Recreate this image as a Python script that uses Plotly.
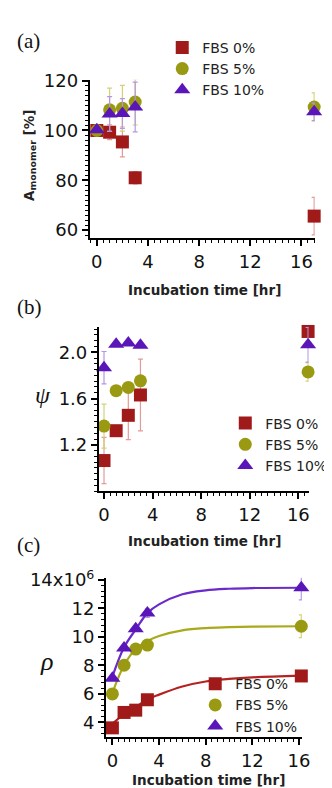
import plotly.graph_objects as go

W, H = 332, 788

# ---------------- data ----------------
series_names = ["FBS 0%", "FBS 5%", "FBS 10%"]

# (a) monomer area [%]
t_a = [0, 1, 2, 3, 17]
a_0 = [100, 99.3, 95.4, 81.0, 65.6]
a_0_err = [0, 3, 6, 2.5, 7.5]
a_5 = [100, 108.3, 108.9, 111.4, 109.4]
a_5_err = [0, 8.7, 9.2, 9.2, 5.7]
a_10 = [100.3, 106.6, 106.8, 109.4, 107.5]
a_10_err = [0, 7, 6, 10, 3.5]

# (b) psi
t_b = [0, 1, 2, 3, 16.8]
b_0 = [1.064, 1.322, 1.455, 1.631, 2.18]
b_0_err = [0.2, 0.03, 0.21, 0.31, 0]
b_5 = [1.362, 1.668, 1.696, 1.753, 1.83]
b_5_err = [0.19, 0, 0, 0, 0.08]
b_10 = [1.867, 2.07, 2.08, 2.06, 2.065]
b_10_err = [0.14, 0, 0, 0, 0.15]

# (c) rho (x10^6)
t_c = [0, 1, 2, 3, 16.2]
c_0 = [3.61, 4.69, 4.85, 5.58, 7.25]
c_0_err = [0, 0, 0, 0, 0.25]
c_5 = [5.99, 8.0, 9.14, 9.42, 10.74]
c_5_err = [0, 0, 0, 0, 0.8]
c_10 = [7.09, 9.21, 10.56, 11.66, 13.44]
c_10_err = [0, 0, 0, 0.3, 0.85]

# fitted curves in (c)
fit_t = [0, 1, 2, 3, 4, 6, 8, 10, 12, 16.2]
fit_0 = [3.89, 4.57, 5.07, 5.6, 5.94, 6.51, 6.86, 7.04, 7.15, 7.27]
fit_5 = [6.06, 8.0, 9.14, 9.71, 10.06, 10.45, 10.61, 10.67, 10.71, 10.74]
fit_10 = [7.2, 9.26, 10.51, 11.66, 12.27, 12.98, 13.26, 13.37, 13.42, 13.44]

x_ticks = [0, 4, 8, 12, 16]
a_ticks = [60, 80, 100, 120]
b_ticks = [1.2, 1.6, 2.0]
c_ticks = [4, 6, 8, 10, 12, 14]
c_ticktext = ["4", "6", "8", "10", "12", "14x10<sup>6</sup>"]

# ---------------- style ----------------
marker_cols = ["#A11A1A", "#9A9A12", "#5A16B8"]
err_cols = ["#E29A9A", "#D2D276", "#B496E2"]
line_cols = ["#B52222", "#A9A91C", "#6A2BC9"]
symbols = ["square", "circle", "triangle-up"]
sizes = [13, 13, 14]


def px_x(p):
    return p / W


def px_y(p):
    return 1 - p / H


panels = [
    dict(t=t_a, vals=[a_0, a_5, a_10], errs=[a_0_err, a_5_err, a_10_err],
         xd=(83.3, 315.3), yd=(61.7, 222.7), xr=[-0.55, 17.05], yr=[56.8, 120.4],
         yt=a_ticks, ytt=None, ymin=2),
    dict(t=t_b, vals=[b_0, b_5, b_10], errs=[b_0_err, b_5_err, b_10_err],
         xd=(92.7, 309), yd=(313, 480), xr=[-0.42, 16.85], yr=[0.80, 2.22],
         yt=b_ticks, ytt=["1.2", "1.6", "2.0"], ymin=0.05),
    dict(t=t_c, vals=[c_0, c_5, c_10], errs=[c_0_err, c_5_err, c_10_err],
         xd=(100, 302), yd=(568, 730), xr=[-0.55, 16.25], yr=[2.97, 14.15],
         yt=c_ticks, ytt=c_ticktext, ymin=0.4),
]

fig = go.Figure()
legend_names = ["legend", "legend2", "legend3"]

for i, p in enumerate(panels):
    sfx = "" if i == 0 else str(i + 1)
    xa, ya = "x" + sfx, "y" + sfx
    if i == 2:
        for fy, lc in zip([fit_0, fit_5, fit_10], line_cols):
            fig.add_trace(go.Scatter(
                x=fit_t, y=fy, mode="lines", line=dict(color=lc, width=2.2, shape="spline", smoothing=1.0),
                xaxis=xa, yaxis=ya, showlegend=False, cliponaxis=False, hoverinfo="skip"))
    for k in range(3):
        fig.add_trace(go.Scatter(
            x=p["t"], y=p["vals"][k], mode="markers", name=series_names[k],
            marker=dict(symbol=symbols[k], size=sizes[k], color=marker_cols[k], line=dict(width=0)),
            error_y=dict(type="data", array=p["errs"][k], color=err_cols[k], thickness=1.2, width=2.5),
            xaxis=xa, yaxis=ya, cliponaxis=False, legend=legend_names[i]))

    axis_common = dict(showline=True, linecolor="black", linewidth=2, ticks="outside",
                       ticklen=6, tickwidth=1.5, tickcolor="black", showgrid=False, zeroline=False,
                       tickfont=dict(family="DejaVu Sans", size=18, color="#111"))
    fig.layout["xaxis" + sfx] = dict(
        domain=[px_x(p["xd"][0]), px_x(p["xd"][1])], range=p["xr"], anchor=ya,
        tickvals=x_ticks, minor=dict(dtick=0.5, tick0=0, ticklen=3, tickcolor="black", ticks="outside", tickwidth=1),
        **axis_common)
    ydict = dict(domain=[px_y(p["yd"][1]), px_y(p["yd"][0])], range=p["yr"], anchor=xa,
                 tickvals=p["yt"],
                 minor=dict(dtick=p["ymin"], tick0=0, ticklen=3, tickcolor="black", ticks="outside", tickwidth=1),
                 **axis_common)
    if p["ytt"] is not None:
        ydict["ticktext"] = p["ytt"]
    fig.layout["yaxis" + sfx] = ydict

leg_font = dict(family="DejaVu Sans", size=14, color="#222")
leg_common = dict(xanchor="left", yanchor="top", bgcolor="rgba(0,0,0,0)", font=leg_font,
                  tracegroupgap=0, itemsizing="trace")
fig.update_layout(
    legend=dict(x=px_x(158), y=px_y(13), **leg_common),
    legend2=dict(x=px_x(223), y=px_y(395), **leg_common),
    legend3=dict(x=px_x(192), y=px_y(660), **leg_common),
)

title_font = dict(family="DejaVu Sans", size=13.5, color="#222")
annotations = []
for lbl, yy in [("(a)", 22), ("(b)", 293), ("(c)", 535)]:
    annotations.append(dict(text=lbl, x=px_x(6), y=px_y(yy), xref="paper", yref="paper",
                            xanchor="left", yanchor="middle", showarrow=False,
                            font=dict(family="Liberation Serif, Times New Roman", size=21, color="#111")))
for xx, yy in [(202, 276), (202, 531), (206, 774)]:
    annotations.append(dict(text="<b>Incubation time [hr]</b>", x=px_x(xx), y=px_y(yy), xref="paper", yref="paper",
                            xanchor="center", yanchor="middle", showarrow=False, font=title_font))
annotations.append(dict(text="<b>A<sub>monomer</sub> [%]</b>", x=px_x(21), y=px_y(139), xref="paper", yref="paper",
                        xanchor="center", yanchor="middle", showarrow=False, textangle=-90, font=title_font))
annotations.append(dict(text="<i>ψ</i>", x=px_x(35), y=px_y(382), xref="paper", yref="paper",
                        xanchor="center", yanchor="middle", showarrow=False,
                        font=dict(family="Liberation Serif, Times New Roman", size=24, color="#111")))
annotations.append(dict(text="<i>ρ</i>", x=px_x(39), y=px_y(653), xref="paper", yref="paper",
                        xanchor="center", yanchor="middle", showarrow=False,
                        font=dict(family="Liberation Serif, Times New Roman", size=26, color="#111")))

fig.update_layout(
    width=W, height=H, margin=dict(l=0, r=0, t=0, b=0),
    paper_bgcolor="white", plot_bgcolor="white",
    annotations=annotations, showlegend=True,
)

fig.write_html("out.html")
